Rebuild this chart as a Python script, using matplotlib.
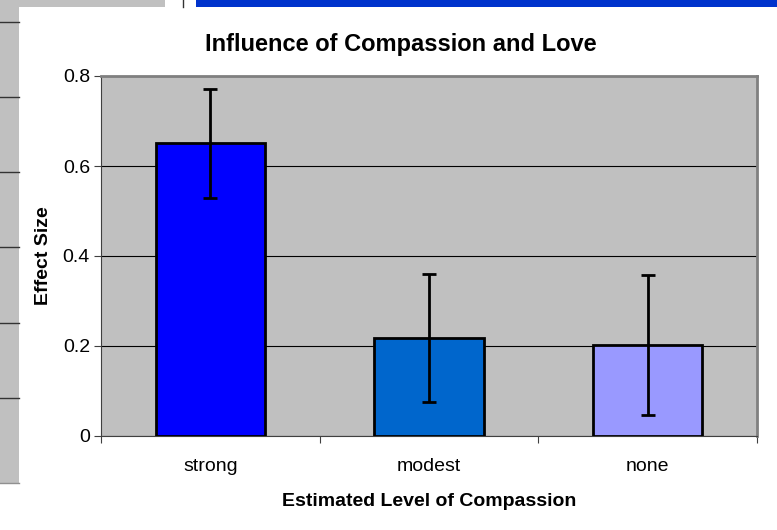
import numpy as np
import matplotlib.pyplot as plt
from matplotlib.patches import Rectangle
from matplotlib.lines import Line2D

#%% Dados
categorias = ['strong', 'modest', 'none']
efeito = [0.651, 0.218, 0.202]
erro = [0.121, 0.142, 0.155]
cores = ['#0000FF', '#0066CC', '#9999FF']
yticks = [0, 0.2, 0.4, 0.6, 0.8]
ytick_labels = ['0', '0.2', '0.4', '0.6', '0.8']

plt.rcParams['font.family'] = ['Liberation Sans', 'DejaVu Sans']

#%% Figura
fig = plt.figure(figsize=(7.77, 5.30), dpi=100)

# fundo da captura de tela (painel cinza e barra azul)
fig.patches.append(Rectangle((0, 0), 1, 1, transform=fig.transFigure,
                             facecolor='#C0C0C0', edgecolor='none', zorder=-3))
fig.patches.append(Rectangle((19/777, 0), 1, 1 - 7/530, transform=fig.transFigure,
                             facecolor='white', edgecolor='none', zorder=-2))
fig.patches.append(Rectangle((0, 0), 19/777, 1 - 483/530, transform=fig.transFigure,
                             facecolor='white', edgecolor='none', zorder=-2))
fig.patches.append(Rectangle((165/777, 1 - 7/530), 31/777, 7/530, transform=fig.transFigure,
                             facecolor='white', edgecolor='none', zorder=-2))
fig.patches.append(Rectangle((196/777, 1 - 7/530), 1, 7/530, transform=fig.transFigure,
                             facecolor='#0033CC', edgecolor='none', zorder=-1))
fig.lines.append(Line2D([183/777, 183/777], [1 - 7/530, 1], transform=fig.transFigure,
                        color='#333333', lw=1))
for yy in [22, 97, 172, 247, 323, 398]:
    fig.lines.append(Line2D([0, 19/777], [1 - yy/530, 1 - yy/530],
                            transform=fig.transFigure, color='#333333', lw=1))
fig.lines.append(Line2D([0, 19/777], [1 - 483/530, 1 - 483/530],
                        transform=fig.transFigure, color='#909090', lw=1))

ax = fig.add_axes([101/777, 94/530, 656/777, 360/530])
ax.set_facecolor('#C0C0C0')

x = np.arange(len(categorias))
ax.bar(x, efeito, width=0.5, color=cores, edgecolor='black', linewidth=2, zorder=3)
ax.errorbar(x, efeito, yerr=erro, fmt='none', ecolor='black', elinewidth=2,
            capsize=5, capthick=2, zorder=4)

ax.set_xlim(-0.5, 2.5)
ax.set_ylim(0, 0.8)
ax.set_yticks(yticks)
ax.set_yticklabels(ytick_labels)
ax.yaxis.grid(True, color='black', linewidth=0.8, zorder=1)
ax.set_axisbelow(True)

ax.set_xticks([-0.5, 0.5, 1.5, 2.5])
ax.set_xticklabels([])
ax.set_xticks(x, minor=True)
ax.set_xticklabels(categorias, minor=True)
ax.tick_params(axis='x', which='minor', length=0, pad=16, labelsize=14)
ax.tick_params(axis='x', which='major', length=5, color='#404040')
ax.tick_params(axis='y', length=5, color='#404040', labelsize=14, pad=3)

ax.spines['top'].set_color('#808080')
ax.spines['top'].set_linewidth(2)
ax.spines['right'].set_color('#808080')
ax.spines['right'].set_linewidth(2)
ax.spines['left'].set_color('#404040')
ax.spines['bottom'].set_color('#404040')

ax.set_xlabel('Estimated Level of Compassion', fontsize=14, fontweight='bold', labelpad=13)
ax.set_ylabel('Effect Size', fontsize=14, fontweight='bold', labelpad=8)
fig.text(401/777, 1 - 44/530, 'Influence of Compassion and Love', fontsize=17,
         fontweight='bold', ha='center', va='center')

plt.savefig('out.png', dpi=100)
